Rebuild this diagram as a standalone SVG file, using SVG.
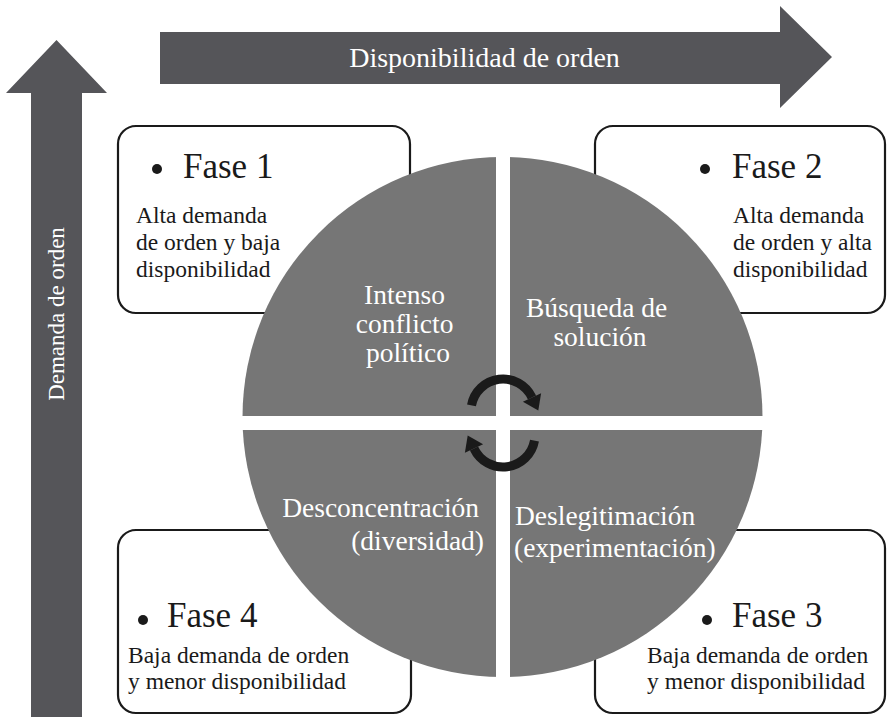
<svg xmlns="http://www.w3.org/2000/svg" width="887" height="719" viewBox="0 0 887 719">
  <style>
    .axis { fill: #555559; }
    .axis-label { font-family: "Liberation Serif", "Times New Roman", serif; fill: #ffffff; }
    .box { fill: #ffffff; stroke: #1a1a1a; stroke-width: 2.2; }
    .title { font-family: "Liberation Serif", "Times New Roman", serif; font-size: 35px; fill: #1a1a1a; }
    .body { font-family: "Liberation Serif", "Times New Roman", serif; font-size: 23.5px; fill: #1a1a1a; }
    .bullet { fill: #1a1a1a; }
    .quad { fill: #767676; }
    .qtext { font-family: "Liberation Serif", "Times New Roman", serif; font-size: 27.5px; fill: #ffffff; }
    .cycle { fill: none; stroke: #1a1a1a; stroke-width: 9; }
    .cyclehead { fill: #1a1a1a; }
  </style>
  <defs>
    <clipPath id="disc">
      <circle cx="502.5" cy="417" r="260"/>
    </clipPath>
  </defs>

  <rect width="887" height="719" fill="#ffffff"/>

  <g id="axis-disponibilidad">
    <polygon class="axis" points="160,32 780,32 780,6 832,57 780,108 780,84 160,84"/>
    <text class="axis-label" x="484.5" y="67" font-size="28" text-anchor="middle">Disponibilidad de orden</text>
  </g>

  <g id="axis-demanda">
    <polygon class="axis" points="31,717 31,93 6,93 56.5,40 107,93 82,93 82,717"/>
    <text class="axis-label" transform="translate(64,314) rotate(-90)" font-size="23" text-anchor="middle">Demanda de orden</text>
  </g>

  <g id="fase1">
    <rect class="box" x="118" y="126" width="292" height="187" rx="18" ry="18"/>
    <circle class="bullet" cx="157" cy="169" r="5"/>
    <text class="title" x="183" y="178">Fase 1</text>
    <text class="body" x="136" y="223">Alta demanda</text>
    <text class="body" x="136" y="250">de orden y baja</text>
    <text class="body" x="136" y="277">disponibilidad</text>
  </g>

  <g id="fase2">
    <rect class="box" x="595" y="126" width="290" height="187" rx="18" ry="18"/>
    <circle class="bullet" cx="705" cy="169" r="5"/>
    <text class="title" x="732" y="178">Fase 2</text>
    <text class="body" x="733" y="223">Alta demanda</text>
    <text class="body" x="733" y="250">de orden y alta</text>
    <text class="body" x="733" y="277">disponibilidad</text>
  </g>

  <g id="fase4">
    <rect class="box" x="118" y="530" width="293" height="183" rx="18" ry="18"/>
    <circle class="bullet" cx="143" cy="620" r="5"/>
    <text class="title" x="167" y="627">Fase 4</text>
    <text class="body" x="128" y="663">Baja demanda de orden</text>
    <text class="body" x="128" y="689">y menor disponibilidad</text>
  </g>

  <g id="fase3">
    <rect class="box" x="595" y="530" width="290" height="183" rx="18" ry="18"/>
    <circle class="bullet" cx="707" cy="620" r="5"/>
    <text class="title" x="732" y="627">Fase 3</text>
    <text class="body" x="647" y="663">Baja demanda de orden</text>
    <text class="body" x="647" y="689">y menor disponibilidad</text>
  </g>

  <g id="q-conflicto">
    <rect class="quad" x="230" y="140" width="266" height="276" clip-path="url(#disc)"/>
    <text class="qtext" text-anchor="middle">
      <tspan x="408" y="304">Intenso</tspan>
      <tspan x="408" y="333">conflicto</tspan>
      <tspan x="408" y="362">político</tspan>
    </text>
  </g>

  <g id="q-solucion">
    <rect class="quad" x="510" y="140" width="265" height="276" clip-path="url(#disc)"/>
    <text class="qtext" text-anchor="middle">
      <tspan x="600" y="317">Búsqueda de</tspan>
      <tspan x="600" y="346">solución</tspan>
    </text>
  </g>

  <g id="q-desconcentracion">
    <rect class="quad" x="230" y="430" width="266" height="260" clip-path="url(#disc)"/>
    <text class="qtext" text-anchor="end">
      <tspan x="486" y="517">Desconcentración</tspan>
      <tspan x="484" y="550">(diversidad)</tspan>
    </text>
  </g>

  <g id="q-deslegitimacion">
    <rect class="quad" x="510" y="430" width="265" height="260" clip-path="url(#disc)"/>
    <text class="qtext">
      <tspan x="515" y="525">Deslegitimación</tspan>
      <tspan x="514" y="557">(experimentación)</tspan>
    </text>
  </g>

  <g id="connectors">
    <g id="cycle-top">
      <path class="cycle" d="M 471.5 405.4 A 32 32 0 0 1 532 397.5"/>
      <polygon class="cyclehead" points="541.1,393.3 522.9,401.7 538.3,410.5"/>
    </g>
    <use href="#cycle-top" transform="rotate(180 503 423)"/>
  </g>
</svg>
